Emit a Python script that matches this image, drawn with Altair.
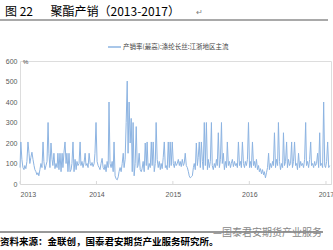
import altair as alt
import pandas as pd

# Production/sales ratio (%), roughly one value per ~5 days
ratio = [
    80, 205, 120, 80, 70, 90, 75, 110, 205, 150, 100, 130, 155, 120, 90, 70, 60, 45, 55, 40,
    70, 100, 80, 205, 110, 70, 90, 110, 300, 150, 80, 200, 120, 90, 150, 75, 100, 80, 150, 70,
    150, 60, 150, 80, 155, 205, 100, 150, 60, 150, 60, 70, 100, 205, 60, 120, 70, 110,
    90, 100, 205, 90, 110, 80, 105, 150, 90, 100, 80, 150, 100, 90, 105, 85, 100, 150, 300, 110,
    90, 80, 70, 100, 125, 80, 70, 95, 60, 110, 80, 400, 100, 80, 110, 60, 205, 40, 25, 20,
    35, 60, 80, 60, 100, 150, 80, 120, 300, 502, 150, 400, 200, 320, 60, 300, 40, 100,
    280, 80, 90, 150, 70, 60, 75, 110, 60, 200, 90, 205, 70, 100, 80, 205, 90, 205, 60, 100,
    300, 120, 80, 110, 70, 100, 75, 130, 205, 80, 90, 70, 205, 80, 205, 90, 205, 100, 80, 110,
    90, 100, 120, 90, 110, 85, 120, 90, 100, 150, 90, 80, 60, 40, 30, 35,
    40, 80, 100, 70, 200, 90, 130, 205, 80, 205, 110, 70, 300, 90, 300, 70, 120, 80, 110, 300,
    90, 70, 100, 80, 120, 90, 250, 80, 120, 300, 100, 150, 70, 110, 80, 205, 90, 110, 80, 100,
    120, 85, 110, 90, 100, 80, 205, 90, 110, 80, 205, 100, 80, 110, 90, 120, 300, 80,
    110, 80, 205, 90, 110, 80, 120, 70, 90, 60, 75, 50, 70, 45, 60, 30, 55, 80, 150, 70,
    100, 80, 110, 90, 250, 80, 120, 90, 300, 110, 70, 100, 80, 250, 90, 110, 205, 80, 120, 90,
    100, 205, 80, 110, 205, 90, 100, 70, 150, 80, 110, 90, 100, 80, 120, 300, 90,
    110, 80, 120, 205, 90, 100, 80, 110, 90, 100, 150, 80, 250, 90, 100, 80, 400, 90, 80, 110,
    205, 80, 90,
]
start_date = "2013-01-01"
end_date = "2017-01-19"
years = ["2013-01-01", "2014-01-01", "2015-01-01", "2016-01-01", "2017-01-01"]
y_ticks = [0, 100, 200, 300, 400, 500, 600]

title_a = "图 22"
title_b = "聚酯产销（2013-2017）"
legend_label = "产销率(最高):涤纶长丝:江浙地区主流"
source_text = "资料来源：金联创，国泰君安期货产业服务研究所。"
watermark = "—国泰君安期货产业服务"

dates = pd.date_range(start_date, end_date, periods=len(ratio))
df = pd.DataFrame({"date": dates.strftime("%Y-%m-%d"), "value": ratio})
ydf = pd.DataFrame({"date": years})
one = pd.DataFrame({"k": [0]})

W, H = 311, 123
BLUE = "#8DB4E2"
FONT = "Liberation Sans"
CJK = "Noto Sans CJK SC"

x_scale = alt.Scale(domain=["2013-01-01", "2017-01-25"])

line = alt.Chart(df).mark_line(color=BLUE, strokeWidth=1).encode(
    x=alt.X("date:T", scale=x_scale, title=None,
            axis=alt.Axis(values=[alt.DateTime(year=y) for y in range(2013, 2018)],
                          format="%Y", labelFont=FONT, labelFontSize=7, labelColor="#595959",
                          labelPadding=6, ticks=False, grid=False,
                          domainColor="#D9D9D9", domainWidth=1)),
    y=alt.Y("value:Q", scale=alt.Scale(domain=[0, 600], nice=False), title=None,
            axis=alt.Axis(values=y_ticks, labelFont=FONT, labelFontSize=7,
                          labelColor="#595959", labelPadding=3, ticks=False,
                          grid=False, domain=False)),
)

ticks = alt.Chart(ydf).mark_rule(color="#D9D9D9", strokeWidth=1).encode(
    x=alt.X("date:T", scale=x_scale), y=alt.value(H), y2=alt.value(H - 3)
)

def txt(s, x, y, size, color="#000000", font=CJK, align="left", weight="normal"):
    return alt.Chart(one).mark_text(align=align, baseline="middle", fontSize=size,
                                    color=color, font=font, fontWeight=weight).encode(
        x=alt.value(x), y=alt.value(y), text=alt.value(s))

def hrule(x1, x2, y, color, w=1.0):
    return alt.Chart(one).mark_rule(color=color, strokeWidth=w).encode(
        x=alt.value(x1), x2=alt.value(x2), y=alt.value(y))

layers = [
    line, ticks,
    hrule(88, 101, -14, BLUE, 1.5),
    txt(legend_label, 103, -14, 6.5, "#404040"),
    txt("%", 3, 1, 6, "#404040", FONT),
    txt(title_a, -15, -49, 12),
    txt(title_b, 30.5, -49, 12),
    txt("↵", 176, -48, 8, "#808080", FONT),
    hrule(-20, 308, -41, "#555555", 1.2),
    hrule(-20, 303, 171, "#333333", 1),
    txt(source_text, -20, 181, 9.5, "#000000", CJK, weight="bold"),
    txt(watermark, 193, 172, 10, "#888888"),
]

chart = alt.layer(*layers).properties(
    width=W, height=H,
    padding={"left": 20, "top": 61, "right": 2, "bottom": 66},
    autosize=alt.AutoSizeParams(type="none"),
).configure_view(stroke=None).configure(background="white")

chart.save("out.html", embed_options={"renderer": "svg", "actions": False})
